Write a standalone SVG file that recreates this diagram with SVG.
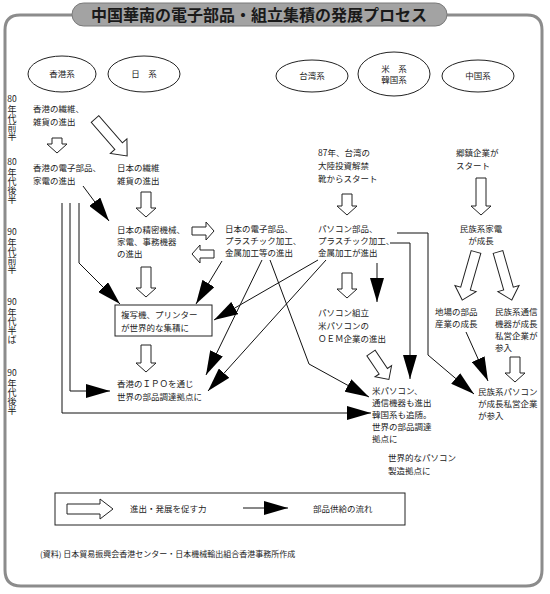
<svg xmlns="http://www.w3.org/2000/svg" width="550" height="594" viewBox="0 0 550 594">
<style>
text{font-family:"Noto Sans CJK JP","Noto Sans",sans-serif;fill:#222;font-size:8.5px}
.c{text-anchor:middle}
.yn{font-size:8.5px;text-anchor:middle}
.yv{font-size:9px;writing-mode:vertical-rl}
.ttl{font-size:16px;font-weight:bold;fill:#1a1a1a;text-anchor:middle}
.src{font-size:8px}
.ell{fill:#fff;stroke:#222;stroke-width:1}
.box{fill:#fff;stroke:#222;stroke-width:1}
.ha{fill:#fff;stroke:#222;stroke-width:1;stroke-linejoin:miter}
.ln{fill:none;stroke:#111;stroke-width:1}
.arr{marker-end:url(#ah)}
</style>
<defs>
<marker id="ah" viewBox="0 0 24 14" refX="24" refY="7" markerWidth="24" markerHeight="14" markerUnits="userSpaceOnUse" orient="auto"><path d="M0,0 L24,7 L0,14 Z" fill="#000"/></marker>
</defs>
<rect width="550" height="594" fill="#fff"/>
<g id="frame">
<path d="M72,15 H20 Q5,15 5,30 V570 Q5,586 21,586 H526 Q542,586 542,570 V30 Q542,15 527,15 H447" fill="none" stroke="#8c8c8c" stroke-width="3"/>
<rect x="72" y="3" width="375" height="23" rx="11.5" fill="#a3a3a3" stroke="#7a7a7a" stroke-width="1"/>
<text class="ttl" x="259" y="21">中国華南の電子部品・組立集積の発展プロセス</text>
</g>
<g id="years">
<text class="yn" x="12" y="102">80</text><text class="yv" x="12" y="105">年代前半</text>
<text class="yn" x="12" y="165">80</text><text class="yv" x="12" y="168">年代後半</text>
<text class="yn" x="12" y="235">90</text><text class="yv" x="12" y="238">年代前半</text>
<text class="yn" x="12" y="305">90</text><text class="yv" x="12" y="308">年代半ば</text>
<text class="yn" x="12" y="376">90</text><text class="yv" x="12" y="379">年代後半</text>
</g>
<g id="hk-head"><ellipse class="ell" cx="62" cy="74" rx="34" ry="18"/><text class="c" x="62" y="77">香港系</text></g>
<g id="jp-head"><ellipse class="ell" cx="144" cy="74" rx="36" ry="18"/><text class="c" x="144" y="77">日　系</text></g>
<g id="tw-head"><ellipse class="ell" cx="312" cy="76" rx="36" ry="16"/><text class="c" x="312" y="79">台湾系</text></g>
<g id="us-head"><ellipse class="ell" cx="394" cy="74" rx="36" ry="22"/><text class="c" x="394" y="72">米　系</text><text class="c" x="394" y="83">韓国系</text></g>
<g id="cn-head"><ellipse class="ell" cx="478" cy="76" rx="36" ry="16"/><text class="c" x="478" y="79">中国系</text></g>
<g id="hk-textile"><text x="33" y="112">香港の繊維、</text><text x="33" y="125">雑貨の進出</text></g>
<g id="hk-elec"><text x="33" y="171">香港の電子部品、</text><text x="33" y="184">家電の進出</text></g>
<g id="jp-textile"><text x="117" y="171">日本の繊維</text><text x="117" y="184">雑貨の進出</text></g>
<g id="jp-precision"><text x="117" y="233">日本の精密機械、</text><text x="117" y="245">家電、事務機器</text><text x="117" y="257">の進出</text></g>
<g id="jp-parts"><text x="225" y="232">日本の電子部品、</text><text x="225" y="244">プラスチック加工、</text><text x="225" y="256">金属加工等の進出</text></g>
<g id="copier"><rect class="box" x="115" y="305" width="97" height="31"/><text x="121" y="318">複写機、プリンター</text><text x="121" y="331">が世界的な集積に</text></g>
<g id="hk-ipo"><text x="117" y="387">香港のＩＰＯを通じ</text><text x="117" y="400">世界の部品調達拠点に</text></g>
<g id="tw-start"><text x="318" y="156">87年、台湾の</text><text x="318" y="169">大陸投資解禁</text><text x="318" y="182">靴からスタート</text></g>
<g id="tw-parts"><text x="318" y="232">パソコン部品、</text><text x="318" y="244">プラスチック加工、</text><text x="318" y="256">金属加工が進出</text></g>
<g id="tw-assembly"><text x="318" y="316">パソコン組立</text><text x="318" y="329">米パソコンの</text><text x="318" y="342">ＯＥＭ企業の進出</text></g>
<g id="us-pc"><text x="372" y="394">米パソコン、</text><text x="372" y="406">通信機器も進出</text><text x="372" y="418">韓国系も追随。</text><text x="372" y="430">世界の部品調達</text><text x="372" y="442">拠点に</text></g>
<g id="world-pc"><text x="388" y="461">世界的なパソコン</text><text x="388" y="474">製造拠点に</text></g>
<g id="cn-start"><text x="456" y="156">郷鎮企業が</text><text x="456" y="169">スタート</text></g>
<g id="cn-appliance"><text class="c" x="481" y="232">民族系家電</text><text class="c" x="481" y="244">が成長</text></g>
<g id="cn-local"><text x="435" y="315">地場の部品</text><text x="435" y="327">産業の成長</text></g>
<g id="cn-telecom"><text x="495" y="315">民族系通信</text><text x="495" y="327">機器が成長</text><text x="495" y="339">私営企業が</text><text x="495" y="351">参入</text></g>
<g id="cn-pc"><text x="478" y="395">民族系パソコン</text><text x="478" y="407">が成長私営企業</text><text x="478" y="419">が参入</text></g>
<g id="connectors">
<path class="ha" d="M52,138 H62 V144 H67 L57,153 L47,144 H52 Z"/>
<path class="ha" transform="translate(95,119) rotate(-41)" d="M-5,0 H5 V36 H11 L0,49 L-11,36 H-5 Z"/>
<path class="ha" d="M141,192 H151 V208 H156 L146,217 L136,208 H141 Z"/>
<path class="ha" d="M192,227 H206 V222 L214,231 L206,240 V235 H192 Z"/>
<path class="ha" d="M214,250 H200 V245 L192,254 L200,263 V258 H214 Z"/>
<path class="ha" d="M141,267 H151 V288 H156 L146,297 L136,288 H141 Z"/>
<path class="ha" d="M141,345 H151 V363 H156 L146,372 L136,363 H141 Z"/>
<path class="ha" d="M342,194 H352 V206 H357 L347,215 L337,206 H342 Z"/>
<path class="ha" d="M342,273 H352 V289 H357 L347,298 L337,289 H342 Z"/>
<path class="ha" transform="translate(371,353) rotate(-34)" d="M-5,0 H5 V22 H10 L0,32 L-10,22 H-5 Z"/>
<path class="ha" d="M476,178 H486 V206 H491 L481,215 L471,206 H476 Z"/>
<path class="ha" transform="translate(476,252) rotate(16)" d="M-5,0 H5 V38 H11 L0,50 L-11,38 H-5 Z"/>
<path class="ha" transform="translate(498,252) rotate(-16)" d="M-5,0 H5 V38 H11 L0,50 L-11,38 H-5 Z"/>
<path class="ha" d="M510,357 H520 V373 H525 L515,382 L505,373 H510 Z"/>
<path class="ln arr" d="M83,186 L109,221"/>
<path class="ln arr" d="M79,203 V263 L120,304"/>
<path class="ln arr" d="M70,203 V391 H110"/>
<path class="ln arr" d="M62,203 V413 H371"/>
<path class="ln arr" d="M222,261 L196,304"/>
<path class="ln arr" d="M262,260 L206,375"/>
<path class="ln arr" d="M270,260 L309,364 L369,397"/>
<path class="ln arr" d="M318,260 L214,320"/>
<path class="ln arr" d="M326,260 L208,391"/>
<path class="ln arr" d="M397,233 H428 V355 L474,394"/>
<path class="ln arr" d="M390,243 H410 V379"/>
<path class="ln arr" d="M377,263 V302"/>
<path class="ln arr" d="M466,332 L488,381"/>
</g>
<g id="legend">
<rect class="box" x="55" y="493" width="350" height="32"/>
<path class="ha" d="M67,504 H100 V499 L113,509 L100,519 V514 H67 Z"/>
<text x="130" y="512">進出・発展を促す力</text>
<path class="ln arr" d="M243,508 H288"/>
<text x="313" y="512">部品供給の流れ</text>
</g>
<g id="source"><text class="src" x="40" y="557">(資料) 日本貿易振興会香港センター・日本機械輸出組合香港事務所作成</text></g>
</svg>
